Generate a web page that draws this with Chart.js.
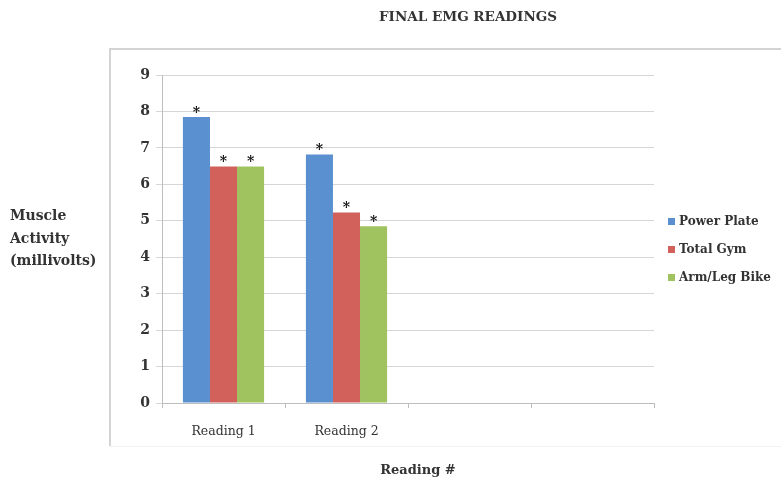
<!DOCTYPE html>
<html>
<head>
<meta charset="utf-8">
<script src="https://cdn.jsdelivr.net/npm/chart.js@4"></script>
<style>
  html, body { margin: 0; padding: 0; background: #fff; }
  #wrap { width: 781px; height: 483px; position: relative; }
</style>
</head>
<body>
<div id="wrap"><canvas id="chartCanvas" width="781" height="483"></canvas></div>
<script>
// ---------- Data ----------
const categories = ["Reading 1", "Reading 2", "", ""];
const powerPlate = [7.85, 6.82, null, null];
const totalGym = [6.49, 5.23, null, null];
const armLegBike = [6.49, 4.85, null, null];
const yTicks = [0, 1, 2, 3, 4, 5, 6, 7, 8, 9];

const SERIF = "'DejaVu Serif', 'Liberation Serif', serif";

// ---------- Extras: frame, titles, legend, asterisks ----------
const extrasPlugin = {
    id: "extras",
    beforeDraw(chart) {
        const ctx = chart.ctx;
        ctx.save();
        // light frame round the plot
        ctx.strokeStyle = "#d4d4d4";
        ctx.lineWidth = 2;
        ctx.beginPath();
        ctx.moveTo(110, 446);
        ctx.lineTo(110, 49);
        ctx.lineTo(781, 49);
        ctx.stroke();
        ctx.strokeStyle = "#f2f2f2";
        ctx.lineWidth = 1;
        ctx.beginPath();
        ctx.moveTo(110, 446.5);
        ctx.lineTo(781, 446.5);
        ctx.stroke();
        ctx.restore();
    },
    afterDraw(chart) {
        const ctx = chart.ctx;
        ctx.save();
        ctx.fillStyle = "#333";
        ctx.textBaseline = "middle";

        // title
        ctx.font = "bold 13.5px " + SERIF;
        ctx.textAlign = "center";
        ctx.fillText("FINAL EMG READINGS", 468, 17);

        // x axis title
        ctx.font = "bold 13px " + SERIF;
        ctx.fillText("Reading #", 418, 471);

        // y axis title
        ctx.font = "bold 14px " + SERIF;
        ctx.textAlign = "left";
        ctx.fillText("Muscle", 10, 216);
        ctx.fillText("Activity", 10, 239);
        ctx.fillText("(millivolts)", 10, 261);

        // legend
        const names = chart.data.datasets.map(d => d.label);
        const cols = chart.data.datasets.map(d => d.backgroundColor);
        ctx.font = "bold 12px " + SERIF;
        names.forEach((n, i) => {
            const y = 222 + i * 28;
            ctx.fillStyle = cols[i];
            ctx.fillRect(668, y - 4, 7, 7);
            ctx.fillStyle = "#333";
            ctx.fillText(n, 679, y);
        });

        // asterisks above every bar
        ctx.fillStyle = "#111";
        ctx.font = "bold 14px " + SERIF;
        ctx.textAlign = "center";
        chart.data.datasets.forEach((ds, di) => {
            const meta = chart.getDatasetMeta(di);
            meta.data.forEach((bar, i) => {
                if (ds.data[i] === null) return;
                ctx.fillText("*", bar.x, bar.y - 4);
            });
        });
        ctx.restore();
    }
};

const ctx = document.getElementById("chartCanvas").getContext("2d");
new Chart(ctx, {
    type: "bar",
    data: {
        labels: categories,
        datasets: [
            { label: "Power Plate", data: powerPlate, backgroundColor: "#5a8fd0" },
            { label: "Total Gym", data: totalGym, backgroundColor: "#d2605b" },
            { label: "Arm/Leg Bike", data: armLegBike, backgroundColor: "#a0c35f" }
        ]
    },
    options: {
        responsive: false,
        animation: false,
        layout: { padding: { left: 130, right: 127, top: 75, bottom: 40 } },
        datasets: { bar: { categoryPercentage: 0.66, barPercentage: 1.0 } },
        plugins: {
            legend: { display: false },
            title: { display: false },
            tooltip: { enabled: false }
        },
        scales: {
            x: {
                grid: { drawOnChartArea: false, offset: true, tickLength: 5, color: "#bdbdbd" },
                border: { color: "#bdbdbd", width: 1 },
                ticks: {
                    color: "#333",
                    font: { family: SERIF, size: 12.5 },
                    padding: 16,
                    maxRotation: 0
                },
                afterFit(scale) { scale.height = 40; }
            },
            y: {
                min: 0,
                max: 9,
                afterBuildTicks(scale) { scale.ticks = yTicks.map(v => ({ value: v })); },
                grid: { color: "#d6d6d6", tickLength: 6, lineWidth: 1 },
                border: { color: "#bdbdbd", width: 1 },
                ticks: {
                    color: "#333",
                    font: { family: SERIF, size: 14, weight: "bold" },
                    padding: 6
                },
                afterFit(scale) { scale.width = 32; }
            }
        }
    },
    plugins: [extrasPlugin]
});
</script>
</body>
</html>
